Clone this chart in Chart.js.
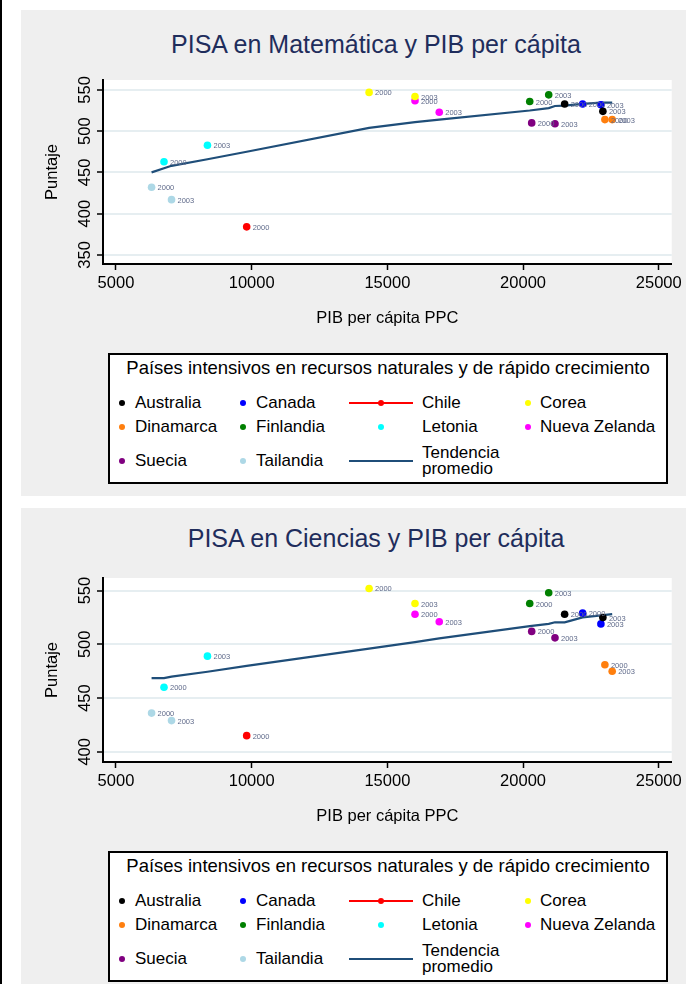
<!DOCTYPE html>
<html>
<head>
<meta charset="utf-8">
<script src="https://cdn.jsdelivr.net/npm/chart.js@4/dist/chart.umd.min.js"></script>
<style>
  body { margin: 0; background: #fff; width: 686px; height: 984px; position: relative; overflow: hidden;
         font-family: 'Liberation Sans', Arial, sans-serif; }
  .borde { position: absolute; left: 0; top: 0; width: 2px; height: 984px; background: #000; }
  .panel { position: absolute; left: 21px; width: 665px; height: 486px; background: #efefef; }
  .titulo { position: absolute; left: 55px; width: 600px; text-align: center; font-size: 25px; line-height: 28px; color: #1f2d5c; }
  .lienzo { position: absolute; left: 0; top: 60px; width: 665px; height: 265px; }
  .leyenda { position: absolute; left: 87px; top: 343px; width: 560px; height: 131px; box-sizing: border-box;
             border: 2px solid #000; background: #fff; }
  .ltit { position: absolute; left: 0; width: 556px; top: 3px; text-align: center; font-size: 18.5px; line-height: 20px; color: #000; }
  .marca { position: absolute; width: 6px; height: 6px; border-radius: 50%; }
  .linea { position: absolute; height: 2px; }
  .txt { position: absolute; font-size: 17px; line-height: 20px; color: #000; white-space: nowrap; }
</style>
</head>
<body>
<div class="borde"></div>

<div class="panel" style="top:10px">
  <div class="titulo" style="top:20px">PISA en Matemática y PIB per cápita</div>
  <div class="lienzo"><canvas id="mate" width="665" height="265"></canvas></div>
  <div class="leyenda" id="leyMate"></div>
</div>

<div class="panel" style="top:508px">
  <div class="titulo" style="top:16px">PISA en Ciencias y PIB per cápita</div>
  <div class="lienzo"><canvas id="cien" width="665" height="265"></canvas></div>
  <div class="leyenda" id="leyCien"></div>
</div>

<script>
// datos: PIB per capita PPC y puntaje PISA (2000, 2003)
const paises = ['Australia', 'Canada', 'Chile', 'Corea', 'Dinamarca', 'Finlandia', 'Letonia', 'Nueva Zelanda', 'Suecia', 'Tailandia'];
const anios = ['2000', '2003'];
const pibPais = [[21532, 22941], [22195, 22868], [9816, null], [14327, 16018], [23015, 23284],
                 [20246, 20945], [6770, 8371], [16018, 16912], [20318, 21176], [6312, 7047]];
const mateValores = [[533, 524], [533, 532], [384, null], [547, 542], [514, 514],
                     [536, 544], [463, 483], [537, 523], [510, 509], [432, 417]];
const cienValores = [[528, 525], [529, 519], [415, null], [552, 538], [481, 475],
                     [538, 548], [460, 489], [528, 521], [512, 506], [436, 429]];

// tendencia promedio
const tendX = [6312, 6770, 7047, 8371, 9816, 14327, 16018, 16912, 20246, 20945, 21176, 21532, 22195, 22868, 23284];
const tendMate = [450, 455, 458, 466, 475, 504, 511, 514, 525, 528, 530.5, 531, 533, 534.5, 534.5];
const tendCien = [468.5, 468.5, 470, 474.5, 480, 496, 502, 505.5, 517, 519, 520.5, 520.5, 525, 527, 528];

const xTicks = [5000, 10000, 15000, 20000, 25000];
const mateTicks = [350, 400, 450, 500, 550];
const cienTicks = [400, 450, 500, 550];

const colores = ['#000000', '#0000ff', '#ff0000', '#ffff00', '#ff7f0e', '#008000', '#00ffff', '#ff00ff', '#800080', '#add8e6'];
const colorTend = '#1f4e79';
const fuente = "'Liberation Sans', Arial, sans-serif";

Chart.defaults.font.family = fuente;

// fondo blanco del area de graficos
const fondo = {
  id: 'fondo',
  beforeDraw(chart) {
    const { ctx, chartArea: a } = chart;
    ctx.save();
    ctx.fillStyle = '#fff';
    ctx.fillRect(a.left, a.top, a.width, a.height);
    ctx.restore();
  }
};

// etiquetas 2000 / 2003 al lado de cada punto
const etiquetas = {
  id: 'etiquetas',
  afterDatasetsDraw(chart) {
    const ctx = chart.ctx;
    ctx.save();
    ctx.font = '7.5px ' + fuente;
    ctx.fillStyle = '#5f6a8a';
    ctx.textBaseline = 'middle';
    chart.data.datasets.forEach((ds, i) => {
      if (ds.tendencia) return;
      chart.getDatasetMeta(i).data.forEach((pt, j) => {
        ctx.fillText(ds.data[j].anio, pt.x + 6, pt.y + 1);
      });
    });
    ctx.restore();
  }
};

// numeros del eje y en vertical
const ticksY = {
  id: 'ticksY',
  afterDraw(chart) {
    const s = chart.scales.y;
    const ctx = chart.ctx;
    ctx.save();
    ctx.font = '16.5px ' + fuente;
    ctx.fillStyle = '#000';
    ctx.textAlign = 'center';
    ctx.textBaseline = 'middle';
    s.ticks.forEach(t => {
      const y = s.getPixelForValue(t.value);
      ctx.save();
      ctx.translate(s.right - 18, y);
      ctx.rotate(-Math.PI / 2);
      ctx.fillText(String(t.value), 0, 0);
      ctx.restore();
    });
    ctx.restore();
  }
};

function armarDatos(valores, tend) {
  let sets = paises.map((p, k) => ({
    label: p,
    data: anios.map((a, i) => ({ x: pibPais[k][i], y: valores[k][i], anio: a }))
               .filter(d => d.x !== null && d.y !== null),
    backgroundColor: colores[k],
    borderColor: colores[k],
    pointRadius: 3.8,
    pointBorderWidth: 0,
    showLine: false
  }));
  sets.push({
    label: 'Tendencia promedio',
    tendencia: true,
    data: tendX.map((x, i) => ({ x: x, y: tend[i] })),
    borderColor: colorTend,
    borderWidth: 2.2,
    pointRadius: 0,
    showLine: true,
    fill: false
  });
  return sets;
}

function dibujar(id, valores, tend, yTicks, yMin, yMax) {
  new Chart(document.getElementById(id), {
    type: 'scatter',
    data: { datasets: armarDatos(valores, tend) },
    options: {
      responsive: false,
      animation: false,
      devicePixelRatio: 1,
      layout: { padding: { top: 10, right: 13, left: 0, bottom: 0 } },
      plugins: { legend: { display: false }, tooltip: { enabled: false } },
      scales: {
        x: {
          type: 'linear', min: 4522, max: 25478,
          afterBuildTicks: s => { s.ticks = xTicks.map(v => ({ value: v })); },
          afterFit: s => { s.height = 71; },
          grid: { drawOnChartArea: false, drawTicks: true, tickLength: 6, tickColor: '#000', tickWidth: 1.5 },
          border: { color: '#000', width: 2 },
          ticks: { color: '#000', font: { size: 16.5 }, padding: 4, maxRotation: 0, autoSkip: false,
                   callback: v => String(v) },
          title: { display: true, text: 'PIB per cápita PPC', color: '#000', font: { size: 16.5 },
                   padding: { top: 0, bottom: 7 } }
        },
        y: {
          type: 'linear', min: yMin, max: yMax,
          afterBuildTicks: s => { s.ticks = yTicks.map(v => ({ value: v })); },
          afterFit: s => { s.width = 82; },
          grid: { color: '#e6eef1', lineWidth: 2, drawTicks: true, tickLength: 6, tickColor: '#000', tickWidth: 1.5 },
          border: { color: '#000', width: 2 },
          ticks: { display: false },
          title: { display: true, text: 'Puntaje', color: '#000', font: { size: 16.5 },
                   padding: { top: 22, bottom: 0 } }
        }
      }
    },
    plugins: [fondo, etiquetas, ticksY]
  });
}

function armarLeyenda(id) {
  const caja = document.getElementById(id);
  let html = '<div class="ltit">Países intensivos en recursos naturales y de rápido crecimiento</div>';
  const colX = [12, 133, 271, 418];
  const textoX = [25, 146, 312, 430];
  const filaY = [48, 71.5, 106];
  const items = paises.concat(['Tendencia promedio']);
  items.forEach((nombre, k) => {
    const c = k % 4, f = Math.floor(k / 4), y = filaY[f];
    if (nombre === 'Chile') {
      html += `<div class="linea" style="left:${colX[c] - 32}px;width:64px;top:${y - 1}px;background:${colores[k]}"></div>`;
      html += `<div class="marca" style="left:${colX[c] - 3}px;top:${y - 3}px;background:${colores[k]}"></div>`;
    } else if (k === paises.length) {
      html += `<div class="linea" style="left:${colX[c] - 32}px;width:64px;top:${y - 1}px;background:${colorTend}"></div>`;
    } else {
      html += `<div class="marca" style="left:${colX[c] - 3}px;top:${y - 3}px;background:${colores[k]}"></div>`;
    }
    if (k === paises.length) {
      html += `<div class="txt" style="left:${textoX[c]}px;top:${y - 16}px;line-height:16px">Tendencia<br>promedio</div>`;
    } else {
      html += `<div class="txt" style="left:${textoX[c]}px;top:${y - 10}px">${nombre}</div>`;
    }
  });
  caja.innerHTML = html;
}

dibujar('mate', mateValores, tendMate, mateTicks, 339, 562);
dibujar('cien', cienValores, tendCien, cienTicks, 390.5, 561.7);
armarLeyenda('leyMate');
armarLeyenda('leyCien');
</script>
</body>
</html>
